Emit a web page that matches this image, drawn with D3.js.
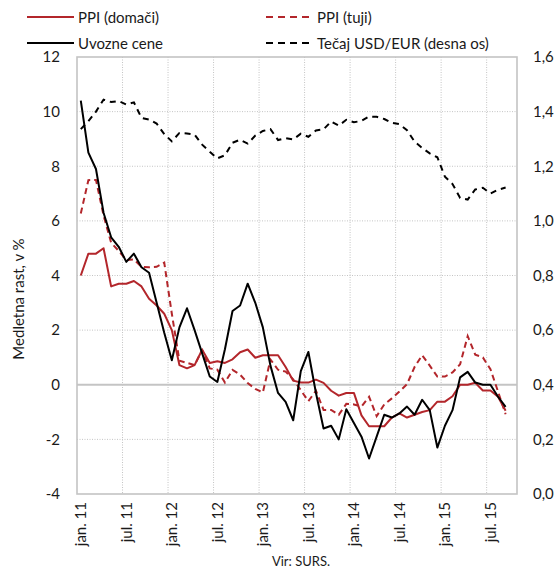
<!DOCTYPE html>
<html>
<head>
<meta charset="utf-8">
<script src="https://cdn.jsdelivr.net/npm/d3@7/dist/d3.min.js"></script>
<style>
  html, body { margin: 0; padding: 0; background: #fff; }
  svg { display: block; }
  text { font-family: Lato, "Noto Sans", sans-serif; fill: #1a1a1a; }
</style>
</head>
<body>
<svg id="chart" width="557" height="570"></svg>
<script>
// ---------- data ----------
const categories = [
  "2011-01","2011-02","2011-03","2011-04","2011-05","2011-06","2011-07","2011-08","2011-09","2011-10","2011-11","2011-12",
  "2012-01","2012-02","2012-03","2012-04","2012-05","2012-06","2012-07","2012-08","2012-09","2012-10","2012-11","2012-12",
  "2013-01","2013-02","2013-03","2013-04","2013-05","2013-06","2013-07","2013-08","2013-09","2013-10","2013-11","2013-12",
  "2014-01","2014-02","2014-03","2014-04","2014-05","2014-06","2014-07","2014-08","2014-09","2014-10","2014-11","2014-12",
  "2015-01","2015-02","2015-03","2015-04","2015-05","2015-06","2015-07","2015-08","2015-09","2015-10"
];
const ppiDomestic = [4.0,4.8,4.8,5.0,3.6,3.7,3.7,3.8,3.6,3.15,
  2.9,2.6,2.0,0.72,0.6,0.72,1.28,0.8,0.86,0.8,
  0.93,1.19,1.29,0.99,1.08,1.08,1.08,0.65,0.15,0.08,
  0.08,0.19,0.07,-0.22,-0.4,-0.3,-0.3,-1.12,-1.52,-1.52,
  -1.52,-1.2,-1.05,-1.2,-1.1,-1.0,-0.93,-0.62,-0.62,-0.42,
  0.0,0.0,0.07,-0.21,-0.21,-0.44,-0.95];
const ppiForeign = [6.27,7.49,7.5,6.2,5.2,4.9,4.57,4.59,4.32,4.3,
  4.32,4.47,2.6,0.88,0.8,0.72,1.27,0.6,0.55,0.08,
  0.54,0.37,0.06,-0.15,-0.28,0.92,0.55,0.48,0.2,-0.2,
  -0.6,-0.22,-0.92,-0.92,-1.1,-0.7,-0.72,-0.8,-0.44,-1.15,
  -0.72,-0.5,-0.25,0.02,0.65,1.08,0.7,0.3,0.3,0.45,
  0.75,1.78,1.1,1.0,0.57,-0.25,-1.08];
const importPrices = [10.4,8.5,7.9,6.3,5.4,5.05,4.5,4.8,4.3,4.1,
  3.0,1.9,0.9,2.1,2.8,2.0,1.15,0.3,0.1,1.3,
  2.7,2.9,3.7,3.0,2.1,0.7,-0.3,-0.63,-1.3,0.5,
  1.2,-0.3,-1.6,-1.5,-2.0,-0.9,-1.4,-1.9,-2.7,-1.9,
  -1.1,-1.2,-1.05,-0.8,-1.1,-0.55,-0.93,-2.3,-1.5,-0.93,
  0.27,0.47,0.08,0.0,0.0,-0.44,-0.81];
const usdEur = [1.336,1.365,1.400,1.444,1.435,1.439,1.426,1.434,1.377,1.371,
  1.356,1.318,1.291,1.322,1.320,1.316,1.279,1.253,1.229,1.240,
  1.286,1.297,1.283,1.312,1.329,1.336,1.296,1.303,1.298,1.319,
  1.308,1.331,1.335,1.364,1.349,1.370,1.361,1.366,1.382,1.381,
  1.373,1.359,1.354,1.332,1.290,1.267,1.247,1.233,1.162,1.135,
  1.084,1.078,1.115,1.121,1.100,1.114,1.122];
const leftTicks = [-4,-2,0,2,4,6,8,10,12];
const rightTicks = [0,0.2,0.4,0.6,0.8,1.0,1.2,1.4,1.6];
const xTickCats = ["2011-01","2011-07","2012-01","2012-07","2013-01","2013-07","2014-01","2014-07","2015-01","2015-07"];
const xTickLabels = ["jan. 11","jul. 11","jan. 12","jul. 12","jan. 13","jul. 13","jan. 14","jul. 14","jan. 15","jul. 15"];
const gridCats = ["2011-07","2012-01","2012-07","2013-01","2013-07","2014-01","2014-07","2015-01","2015-07"];
const seriesNames = ["PPI (domači)","PPI (tuji)","Uvozne cene","Tečaj USD/EUR (desna os)"];

// ---------- layout ----------
const RED = "#b3262b";
const GRID = "#c4c4c4";
const L = 77, R = 517, T = 57, B = 494;
const svg = d3.select("#chart");

const x = d3.scaleBand().domain(categories).range([L, R]).padding(0);
const cx = c => x(c) + x.bandwidth() / 2;
const yL = d3.scaleLinear().domain([-4, 12]).range([B, T]);
const yR = d3.scaleLinear().domain([0, 1.6]).range([B, T]);

// horizontal grid (dotted)
svg.append("g").selectAll("line")
  .data(leftTicks.filter(t => t !== 0 && t !== -4 && t !== 12))
  .join("line")
  .attr("x1", L).attr("x2", R)
  .attr("y1", d => yL(d)).attr("y2", d => yL(d))
  .attr("stroke", GRID).attr("stroke-width", 1).attr("stroke-dasharray", "1,1.5");

// vertical grid (dotted) at category boundaries
svg.append("g").selectAll("line")
  .data(gridCats)
  .join("line")
  .attr("x1", d => x(d)).attr("x2", d => x(d))
  .attr("y1", T).attr("y2", B)
  .attr("stroke", GRID).attr("stroke-width", 1).attr("stroke-dasharray", "1,1.5");

// zero line
svg.append("line")
  .attr("x1", L).attr("x2", R).attr("y1", yL(0)).attr("y2", yL(0))
  .attr("stroke", GRID).attr("stroke-width", 2);

// frame
svg.append("rect")
  .attr("x", L).attr("y", T).attr("width", R - L).attr("height", B - T)
  .attr("fill", "none").attr("stroke", GRID).attr("stroke-width", 1.6);

// axes
const axL = svg.append("g").attr("transform", `translate(${L},0)`)
  .call(d3.axisLeft(yL).tickValues(leftTicks).tickSize(0).tickPadding(17).tickFormat(d => String(d)));
axL.select(".domain").remove();
axL.selectAll("text").style("font-family", "Lato, sans-serif").style("font-size", "15px").attr("fill", "#1a1a1a");

const axR = svg.append("g").attr("transform", `translate(${R},0)`)
  .call(d3.axisRight(yR).tickValues(rightTicks).tickSize(0).tickPadding(16)
    .tickFormat(d => d.toFixed(1).replace(".", ",")));
axR.select(".domain").remove();
axR.selectAll("text").style("font-family", "Lato, sans-serif").style("font-size", "15px").attr("fill", "#1a1a1a");

// x labels (rotated)
svg.append("g").selectAll("text")
  .data(xTickCats)
  .join("text")
  .attr("transform", d => `translate(${cx(d)},502) rotate(-90)`)
  .attr("text-anchor", "end")
  .attr("dy", "0.35em")
  .style("font-size", "15px")
  .text((d, i) => xTickLabels[i]);

// y title
svg.append("text")
  .attr("transform", "translate(24,299) rotate(-90)")
  .attr("text-anchor", "middle")
  .style("font-size", "15px")
  .text("Medletna rast, v %");

// source
svg.append("text")
  .attr("x", 301).attr("y", 566)
  .attr("text-anchor", "middle")
  .style("font-size", "13px")
  .text("Vir: SURS.");

// series
const lineL = d3.line().x((d, i) => cx(categories[i])).y(d => yL(d));
const lineR = d3.line().x((d, i) => cx(categories[i])).y(d => yR(d));

svg.append("path").datum(usdEur).attr("d", lineR)
  .attr("fill", "none").attr("stroke", "#000").attr("stroke-width", 2)
  .attr("stroke-dasharray", "6,5");
svg.append("path").datum(ppiForeign).attr("d", lineL)
  .attr("fill", "none").attr("stroke", RED).attr("stroke-width", 2)
  .attr("stroke-dasharray", "6,4");
svg.append("path").datum(ppiDomestic).attr("d", lineL)
  .attr("fill", "none").attr("stroke", RED).attr("stroke-width", 2)
  .attr("stroke-linejoin", "round");
svg.append("path").datum(importPrices).attr("d", lineL)
  .attr("fill", "none").attr("stroke", "#000").attr("stroke-width", 2)
  .attr("stroke-linejoin", "round");

// legend
const legendItems = [
  { name: seriesNames[0], color: RED, dash: null, lx: 27, ly: 17 },
  { name: seriesNames[1], color: RED, dash: "7,5", lx: 266, ly: 17 },
  { name: seriesNames[2], color: "#000", dash: null, lx: 27, ly: 43 },
  { name: seriesNames[3], color: "#000", dash: "7,5", lx: 266, ly: 43 }
];
const lg = svg.append("g").selectAll("g").data(legendItems).join("g");
lg.append("line")
  .attr("x1", d => d.lx).attr("x2", d => d.lx + 47)
  .attr("y1", d => d.ly).attr("y2", d => d.ly)
  .attr("stroke", d => d.color).attr("stroke-width", 2)
  .attr("stroke-dasharray", d => d.dash);
lg.append("text")
  .attr("x", d => d.lx + 51).attr("y", d => d.ly + 6)
  .style("font-size", "15px")
  .text(d => d.name);
</script>
</body>
</html>
